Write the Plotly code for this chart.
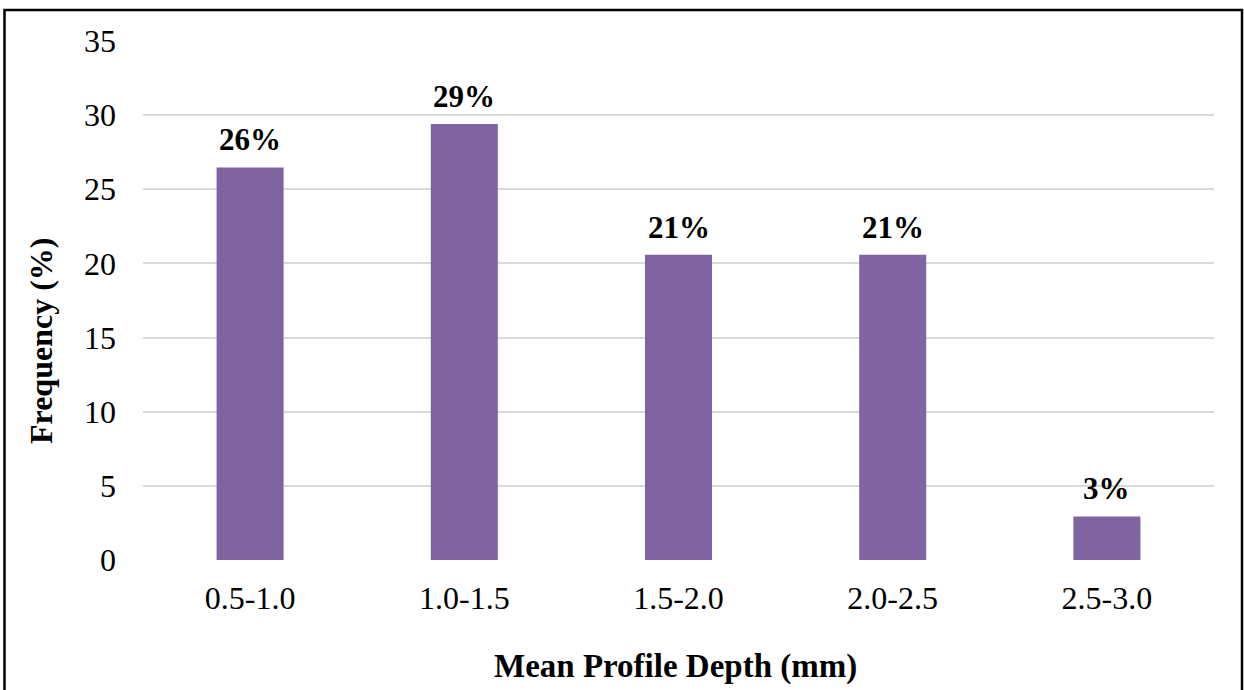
import plotly.graph_objects as go

# Mean profile depth classes and their share of the sample (%)
depth_classes = ["0.5-1.0", "1.0-1.5", "1.5-2.0", "2.0-2.5", "2.5-3.0"]
frequency = [26.47, 29.41, 20.59, 20.59, 2.94]
y_ticks = [0, 5, 10, 15, 20, 25, 30, 35]

FONT = "Liberation Serif"
W, H = 1244, 690
L, R, T, B = 143, 30, 41, 130
pw, ph = W - L - R, H - T - B


def px_x(p):
    return (p - L) / pw


def px_y(p):
    return (H - B - p) / ph


fig = go.Figure()
fig.add_trace(go.Bar(
    x=depth_classes,
    y=frequency,
    marker=dict(color="#8064A2", line=dict(width=0)),
    hoverinfo="skip",
))

# value labels above each bar, rounded to whole percent
for cat, val in zip(depth_classes, frequency):
    fig.add_annotation(
        x=cat, y=val, xref="x", yref="y",
        text=f"{round(val)}%", showarrow=False,
        yanchor="bottom", yshift=8,
        font=dict(family=FONT, size=31, color="black", weight="bold"),
    )

# axis titles
fig.add_annotation(
    x=px_x(675), y=px_y(667), xref="paper", yref="paper",
    text="<b>Mean Profile Depth (mm)</b>", showarrow=False,
    xanchor="center", yanchor="middle",
    font=dict(family=FONT, size=33, color="black"),
)
fig.add_annotation(
    x=px_x(41), y=px_y(341), xref="paper", yref="paper",
    text="<b>Frequency (%)</b>", showarrow=False, textangle=-90,
    xanchor="center", yanchor="middle",
    font=dict(family=FONT, size=32, color="black"),
)

# chart frame
fig.add_shape(
    type="rect", xref="paper", yref="paper",
    x0=px_x(4.5), x1=px_x(1242), y0=px_y(720), y1=px_y(10),
    line=dict(color="black", width=2.5), fillcolor="rgba(0,0,0,0)",
    layer="above",
)

fig.update_layout(
    width=W, height=H,
    margin=dict(l=L, r=R, t=T, b=B),
    paper_bgcolor="white", plot_bgcolor="white",
    bargap=0.687,
    showlegend=False,
    font=dict(family=FONT, color="black"),
    xaxis=dict(
        showgrid=False, showline=False, zeroline=False,
        tickfont=dict(family=FONT, size=32, color="black"),
        ticks="", ticklabelstandoff=16,
    ),
    yaxis=dict(
        range=[0, 35], tickvals=y_ticks,
        showgrid=True, gridcolor="#D9D9D9", gridwidth=1.5,
        zeroline=False, showline=False,
        tickfont=dict(family=FONT, size=32, color="black"),
        ticks="", ticklabelstandoff=26,
    ),
)

fig.write_html("out.html")
